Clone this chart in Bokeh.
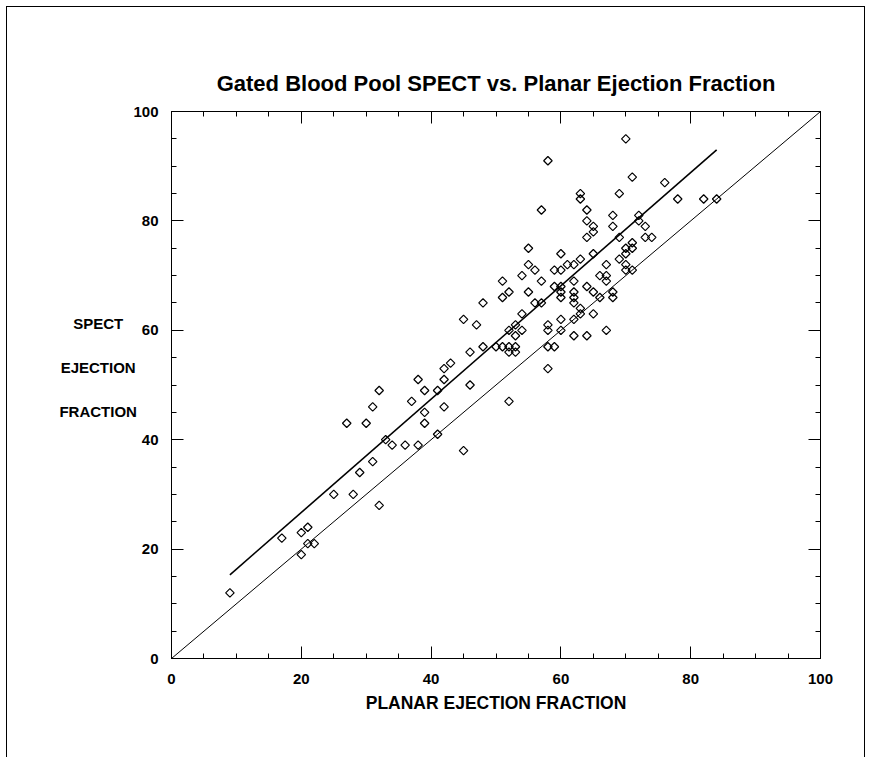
from bokeh.plotting import figure
from bokeh.models import LinearAxis, FixedTicker, Range1d, Label, CustomLabelingPolicy
from bokeh.embed import file_html
from bokeh.resources import INLINE
import numpy as np

TITLE = "Gated Blood Pool SPECT vs. Planar Ejection Fraction"
X_LABEL = "PLANAR EJECTION FRACTION"
Y_LABEL_LINES = ["SPECT", "EJECTION", "FRACTION"]

planar = [9, 17, 20, 21, 21, 22, 20, 25, 28, 29, 31, 32, 27, 30, 31, 32, 33, 34, 36, 38,
          37, 39, 39, 39, 41, 42, 41, 45, 46, 38, 42, 42, 43, 46, 48, 47, 45, 48,
          50, 51, 52, 53, 52, 53, 52, 58, 58, 59,
          52, 54, 53, 53, 58, 58, 60, 60, 62, 62, 64, 67, 54, 63, 65, 63,
          51, 52, 55, 56, 57, 60, 60, 62, 62, 62, 64, 65, 66, 68, 68,
          51, 54, 55, 56, 57, 59, 60, 61, 62, 62, 66, 67, 67, 67, 59, 60,
          60, 63, 65, 69, 70, 70, 71, 70, 70, 71, 71, 55,
          64, 65, 65, 64, 64, 68, 68, 69, 72, 72, 73, 73, 74, 57,
          63, 63, 69, 78, 82, 84, 71, 76, 58, 70]
spect = [12, 22, 23, 24, 21, 21, 19, 30, 30, 34, 36, 28, 43, 43, 46, 49, 40, 39, 39, 39,
         47, 49, 45, 43, 41, 46, 49, 38, 50, 51, 51, 53, 54, 56, 57, 61, 62, 65,
         57, 57, 57, 57, 56, 56, 47, 53, 57, 57,
         60, 60, 59, 61, 61, 60, 60, 62, 62, 59, 59, 60, 63, 63, 63, 64,
         66, 67, 67, 65, 65, 66, 67, 67, 66, 65, 68, 67, 66, 67, 66,
         69, 70, 72, 71, 69, 71, 71, 72, 72, 69, 70, 70, 69, 72, 68, 68,
         74, 73, 74, 73, 72, 71, 71, 74, 75, 75, 76, 75,
         77, 78, 79, 80, 82, 79, 81, 77, 80, 81, 79, 77, 77, 82,
         84, 85, 85, 84, 84, 84, 88, 87, 91, 95]

identity_x = [0, 100]
identity_y = [0, 100]
fit_x = [9, 84]
fit_y = [15.3, 93.0]

major_ticks = [0, 20, 40, 60, 80, 100]
minor_ticks = [0, 5, 10, 15, 20, 25, 30, 35, 40, 45, 50, 55, 60, 65, 70, 75, 80, 85, 90, 95, 100]

FONT = "Liberation Sans"

p = figure(width=859, height=751, x_range=Range1d(0, 100), y_range=Range1d(0, 100),
           output_backend="svg", toolbar_location=None, title=TITLE,
           min_border_left=164, min_border_right=46, min_border_top=104, min_border_bottom=100)
p.styles = {"margin-left": "6px", "margin-top": "6px",
            "border-left": "1px solid black", "border-top": "1px solid black",
            "border-right": "1px solid black"}
p.background_fill_color = "white"
p.border_fill_color = "white"
p.outline_line_color = "black"
p.outline_line_width = 1
p.xgrid.visible = False
p.ygrid.visible = False

p.title.align = "center"
p.title.text_font = FONT
p.title.text_font_size = "22px"
p.title.text_font_style = "bold"
p.title.text_color = "black"
p.title.standoff = 6


def style_axis(ax, labels=True):
    ax.ticker = FixedTicker(ticks=major_ticks, minor_ticks=minor_ticks)
    ax.axis_line_color = "black"
    ax.major_tick_line_color = "black"
    ax.minor_tick_line_color = "black"
    ax.major_tick_in = 12
    ax.major_tick_out = 0
    ax.minor_tick_in = 5
    ax.minor_tick_out = 0
    ax.major_label_text_font = FONT
    ax.major_label_text_font_style = "bold"
    ax.major_label_text_color = "black"
    ax.major_label_text_font_size = "15px"
    ax.major_label_standoff = 15
    if not labels:
        ax.major_label_policy = CustomLabelingPolicy(code="return []")
        ax.major_label_standoff = 0


style_axis(p.xaxis[0])
style_axis(p.yaxis[0])
p.yaxis.major_label_standoff = 13
p.xaxis.axis_label = X_LABEL
p.xaxis.axis_label_text_font = FONT
p.xaxis.axis_label_text_font_style = "bold"
p.xaxis.axis_label_text_font_size = "17.5px"
p.xaxis.axis_label_standoff = 6
p.xaxis.axis_label_text_color = "black"

top_axis = LinearAxis()
style_axis(top_axis, labels=False)
p.add_layout(top_axis, "above")
right_axis = LinearAxis()
style_axis(right_axis, labels=False)
p.add_layout(right_axis, "right")

p.line(identity_x, identity_y, line_color="black", line_width=1)
p.line(fit_x, fit_y, line_color="black", line_width=1.6)
p.scatter(planar, spect, marker="square", angle=np.pi / 4, size=6,
          fill_color=None, line_color="black", line_width=1.2)

y_label = Label(x=-11.3, y=53.2, text="\n".join(Y_LABEL_LINES),
                text_align="center", text_baseline="middle", text_line_height=2.6,
                text_font=FONT, text_font_style="bold", text_font_size="15px",
                text_color="black")
p.add_layout(y_label, "left")

open("out.html", "w").write(file_html(p, INLINE))
